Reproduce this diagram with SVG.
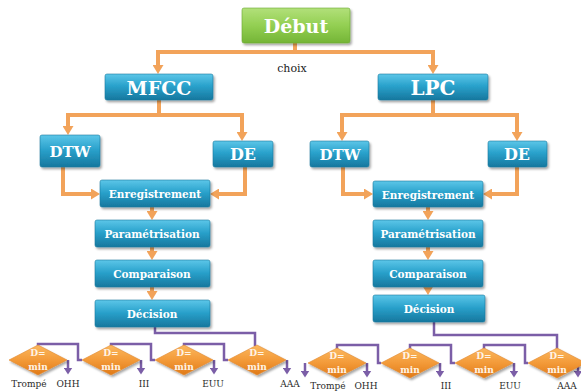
<svg xmlns="http://www.w3.org/2000/svg" width="581" height="392" viewBox="0 0 581 392">
<defs>
<linearGradient id="gBlue" x1="0" y1="0" x2="0" y2="1">
<stop offset="0" stop-color="#5cc6e8"/>
<stop offset="0.45" stop-color="#2aa2cc"/>
<stop offset="1" stop-color="#16779e"/>
</linearGradient>
<linearGradient id="gGreen" x1="0" y1="0" x2="0" y2="1">
<stop offset="0" stop-color="#b2e07a"/>
<stop offset="0.5" stop-color="#93cf52"/>
<stop offset="1" stop-color="#74b536"/>
</linearGradient>
<linearGradient id="gOrange" x1="0" y1="0" x2="0" y2="1">
<stop offset="0" stop-color="#fbb860"/>
<stop offset="0.5" stop-color="#f39a38"/>
<stop offset="1" stop-color="#e07a18"/>
</linearGradient>
<filter id="sh" x="-10%" y="-10%" width="130%" height="140%">
<feDropShadow dx="1.5" dy="2" stdDeviation="1.2" flood-color="#000" flood-opacity="0.35"/>
</filter>
<marker id="ao" markerUnits="userSpaceOnUse" markerWidth="10" markerHeight="11" refX="2" refY="5.5" orient="auto-start-reverse">
<path d="M0,0 L9,5.5 L0,11 z" fill="#f2a35a"/>
</marker>
<marker id="ap" markerUnits="userSpaceOnUse" markerWidth="8" markerHeight="9" refX="1.5" refY="4.5" orient="auto">
<path d="M0,0 L7,4.5 L0,9 z" fill="#7b5ea7"/>
</marker>
</defs>
<style>
text{font-family:"DejaVu Serif",serif}
.box{fill:url(#gBlue);stroke:#1a7aa0;stroke-width:0.6;filter:url(#sh)}
.start{fill:url(#gGreen);stroke:#6aa832;stroke-width:0.6;filter:url(#sh)}
.dia{fill:url(#gOrange);stroke:#e08a30;stroke-width:0.6;filter:url(#sh)}
.t{font-weight:bold;fill:#ffffff;text-anchor:middle}
.dt{font-weight:bold;fill:#fff4e6;text-anchor:middle;font-size:9px}
.lab{fill:#2a2a2a;text-anchor:middle;font-size:9px}
.or{fill:none;stroke:#f2a35a;stroke-width:4}
.pu{fill:none;stroke:#7b5ea7;stroke-width:2.5}
</style>

<g id="connectors">
<path class="or" d="M295,43 V52"/>
<path class="or" d="M158,67 V52 H433 V67" marker-start="url(#ao)" marker-end="url(#ao)"/>
<path class="or" d="M159,100 V115"/>
<path class="or" d="M68,128 V115 H242 V134" marker-start="url(#ao)" marker-end="url(#ao)"/>
<path class="or" d="M433,100 V115"/>
<path class="or" d="M342,134 V115 H517 V134" marker-start="url(#ao)" marker-end="url(#ao)"/>
<path class="or" d="M63,167 V194 H93" marker-end="url(#ao)"/>
<path class="or" d="M245,167 V194 H217" marker-end="url(#ao)"/>
<path class="or" d="M343,167 V194 H366" marker-end="url(#ao)"/>
<path class="or" d="M517,167 V194 H490" marker-end="url(#ao)"/>
<path class="or" d="M152,207 V213" marker-end="url(#ao)"/>
<path class="or" d="M152,247 V253" marker-end="url(#ao)"/>
<path class="or" d="M152,287 V293" marker-end="url(#ao)"/>
<path class="or" d="M428,207 V213" marker-end="url(#ao)"/>
<path class="or" d="M428,247 V253" marker-end="url(#ao)"/>
<path class="or" d="M428,287 V288" marker-end="url(#ao)"/>

<path class="pu" d="M155,327 V333 H255 V346"/>
<path class="pu" d="M38,346 V344 H78 V360 H82"/>
<path class="pu" d="M111,346 V344 H151 V360 H155"/>
<path class="pu" d="M184,346 V344 H224 V360 H228"/>
<path class="pu" d="M68,360 V369" marker-end="url(#ap)"/>
<path class="pu" d="M141,360 V369" marker-end="url(#ap)"/>
<path class="pu" d="M214,360 V369" marker-end="url(#ap)"/>
<path class="pu" d="M287,360 V369" marker-end="url(#ap)"/>

<path class="pu" d="M434,322 V335 H557 V349"/>
<path class="pu" d="M337,349 V345 H378 V363 H381"/>
<path class="pu" d="M410,349 V345 H451 V363 H455"/>
<path class="pu" d="M484,349 V345 H525 V363 H528"/>
<path class="pu" d="M305,363 V372" marker-end="url(#ap)"/>
<path class="pu" d="M367,363 V372" marker-end="url(#ap)"/>
<path class="pu" d="M440,363 V372" marker-end="url(#ap)"/>
<path class="pu" d="M514,363 V372" marker-end="url(#ap)"/>
<path class="pu" d="M578,363 V372" marker-end="url(#ap)"/>
</g>

<g id="debut"><rect class="start" x="242" y="8" width="108" height="35" rx="2"/><text class="t" x="296" y="33" font-size="19">Début</text></g>
<text x="292" y="72" font-size="11" fill="#222" text-anchor="middle">choix</text>

<g id="mfcc"><rect class="box" x="105" y="74" width="108" height="26" rx="2"/><text class="t" x="159" y="95" font-size="19">MFCC</text></g>
<g id="lpc"><rect class="box" x="378" y="74" width="110" height="26" rx="2"/><text class="t" x="433" y="95" font-size="20">LPC</text></g>

<g id="dtw1"><rect class="box" x="40" y="135" width="60" height="32" rx="2"/><text class="t" x="70" y="157" font-size="15">DTW</text></g>
<g id="de1"><rect class="box" x="213" y="141" width="60" height="26" rx="2"/><text class="t" x="243" y="160" font-size="16">DE</text></g>
<g id="dtw2"><rect class="box" x="310" y="141" width="59" height="26" rx="2"/><text class="t" x="340" y="160" font-size="15">DTW</text></g>
<g id="de2"><rect class="box" x="488" y="141" width="59" height="26" rx="2"/><text class="t" x="517" y="160" font-size="16">DE</text></g>

<g id="enr1"><rect class="box" x="100" y="180" width="110" height="27" rx="2"/><text class="t" x="155" y="198" font-size="10.5">Enregistrement</text></g>
<g id="par1"><rect class="box" x="95" y="220" width="115" height="27" rx="2"/><text class="t" x="152" y="238" font-size="10.5">Paramétrisation</text></g>
<g id="com1"><rect class="box" x="95" y="260" width="115" height="27" rx="2"/><text class="t" x="152" y="278" font-size="10.5">Comparaison</text></g>
<g id="dec1"><rect class="box" x="95" y="300" width="115" height="27" rx="2"/><text class="t" x="152" y="318" font-size="10.5">Décision</text></g>

<g id="enr2"><rect class="box" x="373" y="181" width="110" height="26" rx="2"/><text class="t" x="428" y="199" font-size="10.5">Enregistrement</text></g>
<g id="par2"><rect class="box" x="373" y="220" width="110" height="27" rx="2"/><text class="t" x="428" y="238" font-size="10.5">Paramétrisation</text></g>
<g id="com2"><rect class="box" x="373" y="260" width="110" height="27" rx="2"/><text class="t" x="428" y="278" font-size="10.5">Comparaison</text></g>
<g id="dec2"><rect class="box" x="373" y="295" width="112" height="27" rx="2"/><text class="t" x="429" y="313" font-size="10.5">Décision</text></g>

<g id="dl1"><path class="dia" d="M38,345 L67,360 L38,375 L9,360 z"/><text class="dt" x="38" y="356">D=</text><text class="dt" x="38" y="370">min</text></g>
<g id="dl2"><path class="dia" d="M111,345 L140,360 L111,375 L82,360 z"/><text class="dt" x="111" y="356">D=</text><text class="dt" x="111" y="370">min</text></g>
<g id="dl3"><path class="dia" d="M184,345 L213,360 L184,375 L155,360 z"/><text class="dt" x="184" y="356">D=</text><text class="dt" x="184" y="370">min</text></g>
<g id="dl4"><path class="dia" d="M257,345 L286,360 L257,375 L228,360 z"/><text class="dt" x="257" y="356">D=</text><text class="dt" x="257" y="370">min</text></g>

<g id="dr1"><path class="dia" d="M337,348 L366,363 L337,378 L308,363 z"/><text class="dt" x="337" y="359">D=</text><text class="dt" x="337" y="373">min</text></g>
<g id="dr2"><path class="dia" d="M410,348 L439,363 L410,378 L381,363 z"/><text class="dt" x="410" y="359">D=</text><text class="dt" x="410" y="373">min</text></g>
<g id="dr3"><path class="dia" d="M484,348 L513,363 L484,378 L455,363 z"/><text class="dt" x="484" y="359">D=</text><text class="dt" x="484" y="373">min</text></g>
<g id="dr4"><path class="dia" d="M557,348 L586,363 L557,378 L528,363 z"/><text class="dt" x="557" y="359">D=</text><text class="dt" x="557" y="373">min</text></g>

<g id="labels">
<text class="lab" x="29" y="387">Trompé</text>
<text class="lab" x="68" y="387">OHH</text>
<text class="lab" x="144" y="387">III</text>
<text class="lab" x="213" y="387">EUU</text>
<text class="lab" x="290" y="387">AAA</text>
<text class="lab" x="328" y="389">Trompé</text>
<text class="lab" x="366" y="389">OHH</text>
<text class="lab" x="446" y="389">III</text>
<text class="lab" x="510" y="389">EUU</text>
<text class="lab" x="567" y="389">AAA</text>
</g>
</svg>
